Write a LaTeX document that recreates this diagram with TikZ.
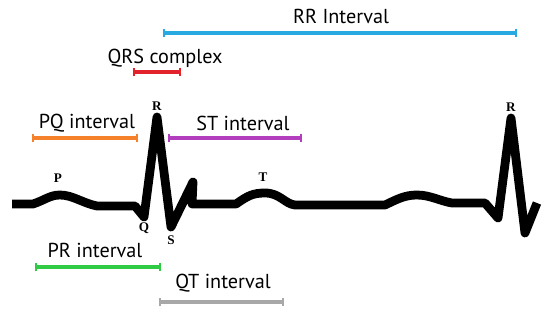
\documentclass[tikz,border=0pt]{standalone}
\usepackage{xcolor}
\usepackage{fontspec}
\setmainfont{PT Sans}
\newfontfamily\wavefont{Liberation Serif}
\usetikzlibrary{arrows.meta}
\definecolor{EKGBlue}{HTML}{29A9E1}
\definecolor{EKGRed}{HTML}{E2232B}
\definecolor{EKGOrange}{HTML}{F5822A}
\definecolor{EKGPurple}{HTML}{B23EBE}
\definecolor{EKGGreen}{HTML}{2FCB45}
\definecolor{EKGGray}{HTML}{A8A8A8}

\begin{document}
\begin{tikzpicture}[x=1cm,y=1cm,
  ivbar/.style={line width=2.2pt,{Bar[width=5pt,line width=1.2pt]}-{Bar[width=5pt,line width=1.2pt]}},
  ivlabel/.style={font=\fontsize{11.5}{13}\selectfont,inner sep=0pt},
  wavelabel/.style={font=\wavefont\fontsize{7.5}{8}\selectfont\bfseries,inner sep=0pt}]
\path[use as bounding box] (0,0) rectangle (11.00,6.40);
\draw[line width=5pt,line join=round] (0.24,2.32) -- (0.66,2.32)
  .. controls (0.90,2.40) and (1.00,2.50) .. (1.20,2.50)
  .. controls (1.45,2.50) and (1.65,2.34) .. (1.94,2.28)
  -- (2.70,2.28) -- (2.88,2.06) -- (3.14,4.06) -- (3.42,1.86) -- (3.86,2.76) -- (3.84,2.32)
  -- (4.72,2.32)
  .. controls (4.95,2.48) and (5.05,2.54) .. (5.30,2.54)
  .. controls (5.60,2.54) and (5.70,2.32) .. (5.90,2.30)
  -- (7.70,2.30)
  .. controls (7.95,2.42) and (8.10,2.50) .. (8.34,2.50)
  .. controls (8.60,2.50) and (8.80,2.38) .. (9.04,2.34)
  -- (9.70,2.34) -- (9.96,2.04) -- (10.22,4.04) -- (10.50,1.74) -- (10.74,2.34);
\node[wavelabel] (p) at (1.16,2.84) {P};
\node[wavelabel] (r) at (3.14,4.28) {R};
\node[wavelabel] (q) at (2.88,1.84) {Q};
\node[wavelabel] (s) at (3.42,1.60) {S};
\node[wavelabel] (t) at (5.26,2.86) {T};
\node[wavelabel] (r2) at (10.22,4.26) {R};
\coordinate (rrA) at (3.26,5.74);
\coordinate (rrB) at (10.34,5.74);
\draw[ivbar,EKGBlue] (rrA) -- (rrB);
\node[ivlabel] (rrlabel) at (6.82,6.08) {RR Interval};
\coordinate (qrsA) at (2.66,4.96);
\coordinate (qrsB) at (3.62,4.96);
\draw[ivbar,EKGRed] (qrsA) -- (qrsB);
\node[ivlabel] (qrslabel) at (3.30,5.24) {QRS complex};
\coordinate (pqA) at (0.64,3.64);
\coordinate (pqB) at (2.76,3.64);
\draw[ivbar,EKGOrange] (pqA) -- (pqB);
\node[ivlabel] (pqlabel) at (1.74,3.94) {PQ interval};
\coordinate (stA) at (3.36,3.64);
\coordinate (stB) at (6.04,3.64);
\draw[ivbar,EKGPurple] (stA) -- (stB);
\node[ivlabel] (stlabel) at (4.86,3.94) {ST interval};
\coordinate (prA) at (0.70,1.06);
\coordinate (prB) at (3.22,1.06);
\draw[ivbar,EKGGreen] (prA) -- (prB);
\node[ivlabel] (prlabel) at (1.90,1.40) {PR interval};
\coordinate (qtA) at (3.18,0.36);
\coordinate (qtB) at (5.68,0.36);
\draw[ivbar,EKGGray] (qtA) -- (qtB);
\node[ivlabel] (qtlabel) at (4.46,0.74) {QT interval};
\end{tikzpicture}
\end{document}
